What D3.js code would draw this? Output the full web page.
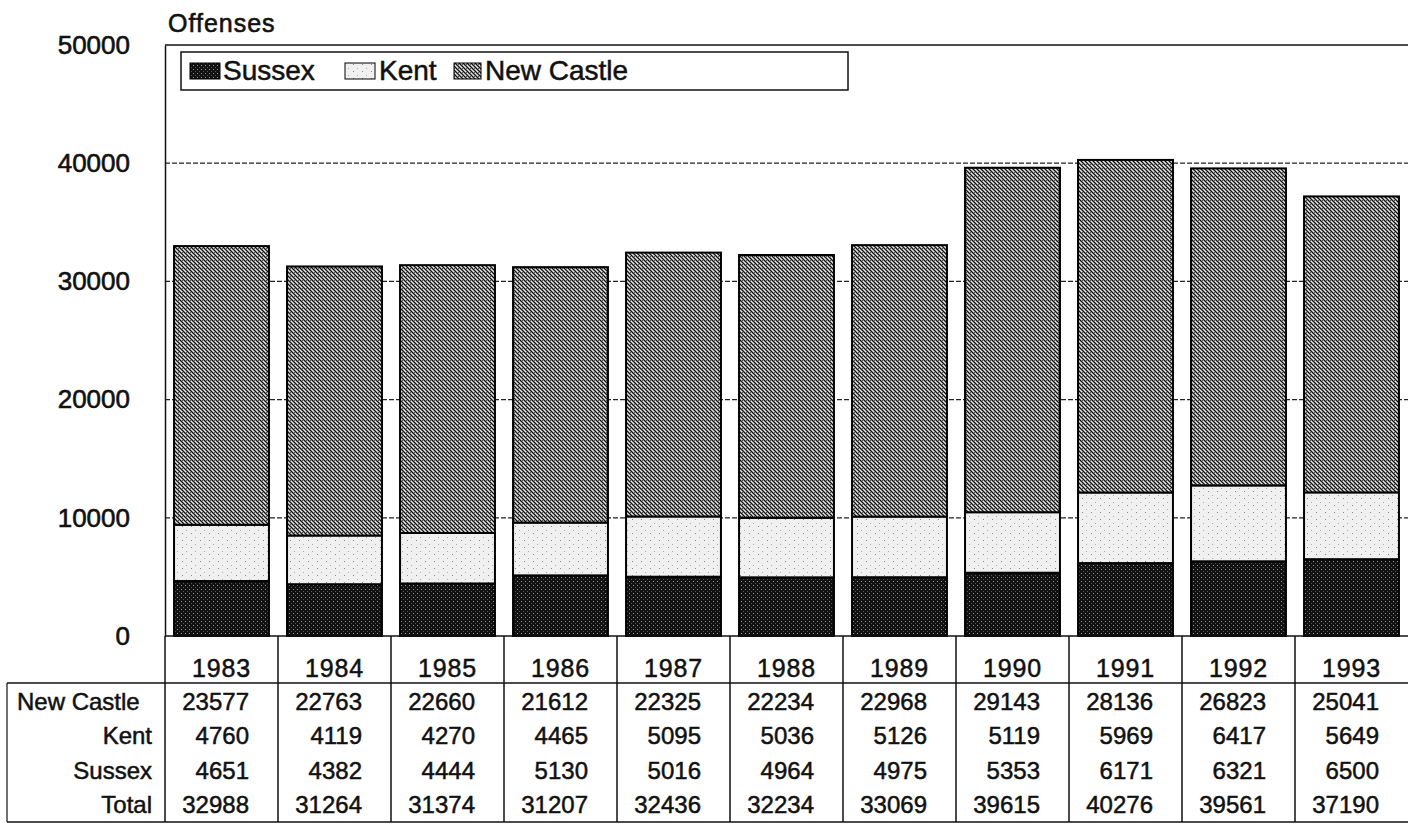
<!DOCTYPE html>
<html>
<head>
<meta charset="utf-8">
<script src="https://cdn.jsdelivr.net/npm/d3@7/dist/d3.min.js"></script>
<style>
  html, body { margin: 0; padding: 0; background: #fff; }
  svg { display: block; font-family: "Liberation Sans", Arial, sans-serif; }
</style>
</head>
<body>
<svg id="chart" width="1408" height="825"></svg>
<script>
// ---- Data ----
const years = ["1983","1984","1985","1986","1987","1988","1989","1990","1991","1992","1993"];
const newCastle = [23577,22763,22660,21612,22325,22234,22968,29143,28136,26823,25041];
const kent      = [4760,4119,4270,4465,5095,5036,5126,5119,5969,6417,5649];
const sussex    = [4651,4382,4444,5130,5016,4964,4975,5353,6171,6321,6500];
const totals    = [32988,31264,31374,31207,32436,32234,33069,39615,40276,39561,37190];
const yTicks    = [0,10000,20000,30000,40000,50000];
const seriesNames = ["Sussex","Kent","New Castle"];
const rowLabels = ["New Castle","Kent","Sussex","Total"];

(function(){
const svg = d3.select("#chart");
const ink = "#111";

// ---- Patterns ----
const defs = svg.append("defs");
const pS = defs.append("pattern").attr("id","pSussex").attr("patternUnits","userSpaceOnUse").attr("width",4).attr("height",4);
pS.append("rect").attr("width",4).attr("height",4).attr("fill","#111");
pS.append("rect").attr("x",1).attr("y",1).attr("width",1).attr("height",1).attr("fill","#999");
pS.append("rect").attr("x",3).attr("y",3).attr("width",1).attr("height",1).attr("fill","#555");
const pK = defs.append("pattern").attr("id","pKent").attr("patternUnits","userSpaceOnUse").attr("width",9).attr("height",7);
pK.append("rect").attr("width",9).attr("height",7).attr("fill","#f0f0f0");
pK.append("rect").attr("x",2).attr("y",1).attr("width",1).attr("height",1).attr("fill","#888");
pK.append("rect").attr("x",6).attr("y",5).attr("width",1).attr("height",1).attr("fill","#aaa");
const pN = defs.append("pattern").attr("id","pNC").attr("patternUnits","userSpaceOnUse").attr("width",4).attr("height",4);
pN.append("rect").attr("width",4).attr("height",4).attr("fill","#e6e6e6");
pN.append("path").attr("d","M0,0 L4,4 M-1,3 L1,5 M3,-1 L5,1").attr("stroke","#111").attr("stroke-width",1.3);
pN.append("rect").attr("x",2).attr("y",0).attr("width",1).attr("height",1).attr("fill","#555");
const fills = {"Sussex":"url(#pSussex)","Kent":"url(#pKent)","New Castle":"url(#pNC)"};

// ---- Scales ----
const pLeft = 165, pRight = 1408, pTop = 45, pBottom = 636;
const x = d3.scaleBand().domain(years).range([pLeft, pRight]).paddingInner(0.16).paddingOuter(0.08);
const y = d3.scaleLinear().domain([0,50000]).range([pBottom, pTop]);
const step = x.step();
const bandStart = d => x(d) - step * 0.08;

// ---- Gridlines ----
svg.append("g").selectAll("line").data(yTicks.filter(t => t > 0 && t < 50000)).join("line")
  .attr("x1", pLeft).attr("x2", pRight)
  .attr("y1", d => y(d)).attr("y2", d => y(d))
  .attr("stroke","#222").attr("stroke-width",1.3).attr("stroke-dasharray","5,2");
svg.append("line").attr("x1", pLeft).attr("x2", pRight).attr("y1", y(50000)).attr("y2", y(50000))
  .attr("stroke",ink).attr("stroke-width",1.5);

// ---- Y axis ----
const yAxis = d3.axisLeft(y).tickValues(yTicks).tickSize(0).tickPadding(35).tickFormat(d3.format("d"));
const ga = svg.append("g").attr("transform", `translate(${pLeft},0)`).call(yAxis);
ga.select(".domain").attr("stroke",ink).attr("stroke-width",1.5);
ga.selectAll("text").attr("font-size", 26).attr("fill",ink).attr("stroke",ink).attr("stroke-width",0.6);

svg.append("text").attr("x", 168).attr("y", 32).attr("font-size", 25).attr("letter-spacing", 1)
  .attr("fill",ink).attr("stroke",ink).attr("stroke-width",0.6).text("Offenses");

// ---- Stacked bars ----
const rows = years.map((yr,i) => ({year: yr, "Sussex": sussex[i], "Kent": kent[i], "New Castle": newCastle[i]}));
const stack = d3.stack().keys(seriesNames)(rows);
svg.append("g").selectAll("g").data(stack).join("g")
  .attr("fill", d => fills[d.key])
  .selectAll("rect").data(d => d).join("rect")
  .attr("x", d => x(d.data.year))
  .attr("width", x.bandwidth())
  .attr("y", d => y(d[1]))
  .attr("height", d => y(d[0]) - y(d[1]))
  .attr("stroke","#000").attr("stroke-width",2);

svg.append("line").attr("x1", pLeft).attr("x2", pRight).attr("y1", pBottom).attr("y2", pBottom)
  .attr("stroke",ink).attr("stroke-width",1.5);

// ---- Legend ----
const lg = svg.append("g");
lg.append("rect").attr("x",181).attr("y",52).attr("width",667).attr("height",38)
  .attr("fill","#fff").attr("stroke",ink).attr("stroke-width",1.5);
const swX = [190, 345, 454];
const swW = [30, 30, 27];
const txX = [223, 379, 485];
seriesNames.forEach((s,i) => {
  lg.append("rect").attr("x", swX[i]).attr("y", 63).attr("width", swW[i]).attr("height", 16)
    .attr("fill", fills[s]).attr("stroke","#000").attr("stroke-width",1);
  lg.append("text").attr("x", txX[i]).attr("y", 80)
    .attr("font-size", 28)
    .attr("fill",ink).attr("stroke",ink).attr("stroke-width",0.5).text(s);
});

// ---- Data table ----
const tb = svg.append("g");
const tLeft = 7, hLine = 683, tBottom = 822;
tb.append("line").attr("x1", tLeft).attr("x2", pRight).attr("y1", hLine).attr("y2", hLine).attr("stroke",ink).attr("stroke-width",1.5);
tb.append("line").attr("x1", tLeft).attr("x2", pRight).attr("y1", tBottom).attr("y2", tBottom).attr("stroke",ink).attr("stroke-width",1.5);
tb.append("line").attr("x1", tLeft).attr("x2", tLeft).attr("y1", hLine).attr("y2", tBottom).attr("stroke",ink).attr("stroke-width",1.2);
tb.selectAll("line.col").data(years).join("line").attr("class","col")
  .attr("x1", d => bandStart(d)).attr("x2", d => bandStart(d))
  .attr("y1", pBottom).attr("y2", tBottom).attr("stroke",ink).attr("stroke-width",1.5);

tb.selectAll("text.yr").data(years).join("text").attr("class","yr")
  .attr("x", d => x(d) + x.bandwidth()/2).attr("y", 677)
  .attr("text-anchor","middle")
  .attr("font-size", 25).attr("letter-spacing", 0.8)
  .attr("fill",ink).attr("stroke",ink).attr("stroke-width",0.5).text(d => d);

const tableVals = [newCastle, kent, sussex, totals];
const rowBase = [710, 744, 779, 813];
tableVals.forEach((vals,ri) => {
  const lab = rowLabels[ri];
  const first = ri === 0;
  tb.append("text").attr("x", first ? 17 : 152).attr("y", rowBase[ri])
    .attr("text-anchor", first ? "start" : "end")
    .attr("font-size", 24).attr("fill",ink).attr("stroke",ink).attr("stroke-width",0.5).text(lab);
  tb.append("g").selectAll("text").data(years).join("text")
    .attr("x", d => bandStart(d) + 84).attr("y", rowBase[ri])
    .attr("text-anchor","end")
    .attr("font-size", 24).attr("fill",ink).attr("stroke",ink).attr("stroke-width",0.5).text((d,i) => vals[i]);
});
})();
</script>
</body>
</html>
